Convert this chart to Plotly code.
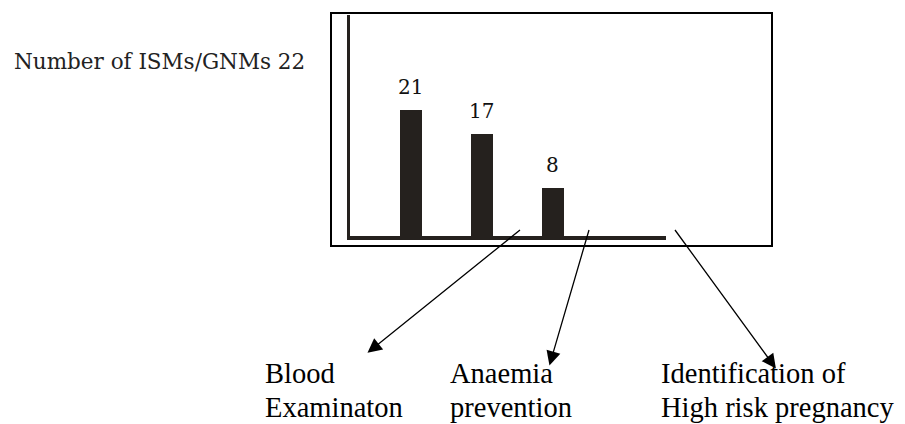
import plotly.graph_objects as go

# ---- data ----
categories = ["Blood Examinaton", "Anaemia prevention", "Identification of High risk pregnancy"]
label_lines = [["Blood", "Examinaton"], ["Anaemia", "prevention"], ["Identification of", "High risk pregnancy"]]
values = [21, 17, 8]
shown_values = [21, 17, 8]
y_title = "Number of ISMs/GNMs 22"

# page body has an 8px margin; lay the figure out in window pixels
OFF = 8
W, H = 905 - OFF, 424 - OFF
L, R, T, B = 350 - OFF, 239, 15 - OFF, 188
PW, PH = W - L - R, H - T - B


def px(x):
    return (x - OFF - L) / PW


def py(y):
    return (H - B - (y - OFF)) / PH


BAR = "#25211e"

fig = go.Figure()
fig.add_trace(go.Bar(
    x=categories[: len(values)], y=values, width=0.311,
    marker=dict(color=BAR, line=dict(width=0)),
    hoverinfo="skip", showlegend=False,
))

ann = []
# value labels above bars
for c, v, s in zip(categories, values, shown_values):
    ann.append(dict(x=c, y=v, xref="x", yref="y", text=str(s), showarrow=False,
                    yanchor="bottom", xanchor="center", yshift=9,
                    font=dict(family="DejaVu Serif", size=20, color="#111")))

# y axis title
ann.append(dict(x=px(12), y=py(61.5), xref="paper", yref="paper", text=y_title,
                showarrow=False, xanchor="left", yanchor="middle",
                font=dict(family="DejaVu Serif", size=21.5, color="#222")))

# arrows from axis to category labels
tails = [(520, 230), (589, 230), (675, 230)]
tips = [(366, 354), (549, 367), (777, 370)]
for (tx, ty), (hx, hy) in zip(tails, tips):
    ann.append(dict(x=px(tx), y=py(ty), xref="paper", yref="paper", text="",
                    showarrow=True, ax=hx - tx, ay=hy - ty, axref="pixel", ayref="pixel",
                    arrowside="start", startarrowhead=2, startarrowsize=2.2,
                    arrowwidth=1.3, arrowcolor="#000", standoff=0, startstandoff=0))

# category labels (two lines each)
label_x = [263, 448, 659]
line_y = [373, 407]
for lx, lines in zip(label_x, label_lines):
    for ly, t in zip(line_y, lines):
        ann.append(dict(x=px(lx), y=py(ly), xref="paper", yref="paper", text=t,
                        showarrow=False, xanchor="left", yanchor="middle",
                        font=dict(family="Liberation Serif", size=28.5, color="#000")))

shapes = [dict(type="rect", xref="paper", yref="paper",
               x0=px(331), x1=px(772), y0=py(246), y1=py(13),
               line=dict(color="#000", width=2), fillcolor="rgba(0,0,0,0)", layer="below")]

fig.update_layout(
    width=W, height=H, margin=dict(l=L, r=R, t=T, b=B),
    paper_bgcolor="white", plot_bgcolor="white",
    xaxis=dict(type="category", range=[-0.862, 3.604], showticklabels=False, ticks="",
               showgrid=False, zeroline=False, showline=True, linewidth=4, linecolor=BAR),
    yaxis=dict(range=[0, 36.8], showticklabels=False, ticks="", showgrid=False,
               zeroline=False, showline=True, linewidth=3, linecolor=BAR),
    annotations=ann, shapes=shapes, bargap=0,
)

fig.write_html("out.html")
